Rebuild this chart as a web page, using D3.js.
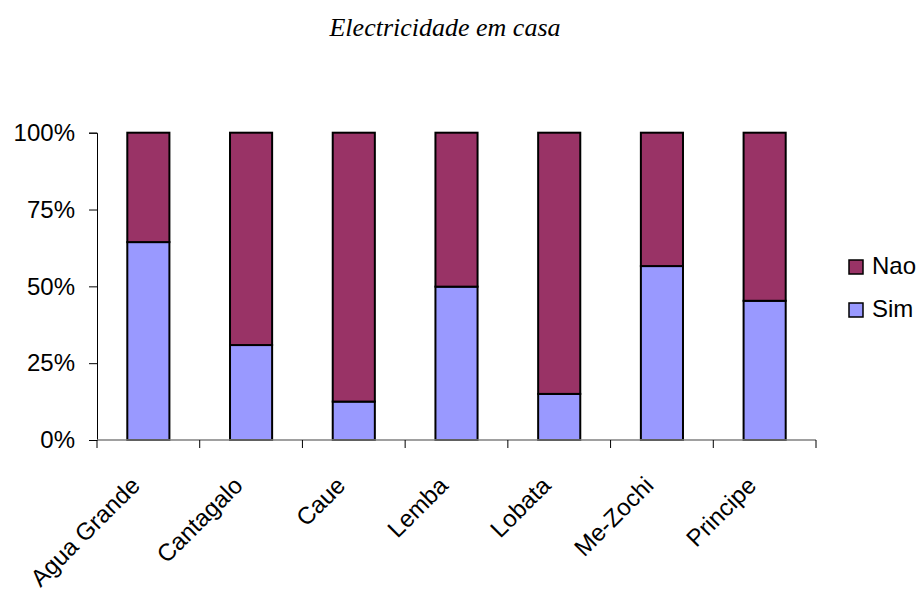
<!DOCTYPE html>
<html>
<head>
	<meta charset="utf-8">
	<script src="https://d3js.org/d3.v7.min.js"></script>
	<title>Electricidade em casa</title>
	<style>
		body { margin: 0; background: #fff; }
		text { font-family: Arial, "Liberation Sans", sans-serif; }
	</style>
</head>
<body>
	<div id="chart"></div>

	<script type="text/javascript">

		// data (share of households, 0-1)
		var districts = ["Agua Grande", "Cantagalo", "Caue", "Lemba", "Lobata", "Me-Zochi", "Principe"];
		var sim = [0.644, 0.309, 0.125, 0.499, 0.150, 0.566, 0.453];
		var nao = [0.356, 0.691, 0.875, 0.501, 0.850, 0.434, 0.547];
		var seriesNames = ["Sim", "Nao"];
		var yTicks = [0, 0.25, 0.5, 0.75, 1];

		var colors = { Sim: "#9999ff", Nao: "#993366" };

		var svgwidth = 922;
		var svgheight = 594;
		var plotLeft = 97, plotRight = 816, plotTop = 132.7, plotBottom = 440;

		var rows = districts.map(function(d, i){
			return { name: d, Sim: sim[i], Nao: nao[i] };
		});

		var stacked = d3.stack().keys(seriesNames)(rows);

		var xScale = d3.scaleBand()
						.domain(districts)
						.range([plotLeft, plotRight])
						.paddingInner(0.59)
						.paddingOuter(0.295);

		var yScale = d3.scaleLinear()
						.domain([0, 1])
						.range([plotBottom, plotTop]);

		var svg = d3.select("#chart").append("svg")
						.attr("width", svgwidth)
						.attr("height", svgheight);

		// title
		svg.append("text")
			.attr("x", 445)
			.attr("y", 36)
			.attr("text-anchor", "middle")
			.style("font-family", "'Liberation Serif', 'Times New Roman', serif")
			.style("font-style", "italic")
			.style("font-size", "26px")
			.text("Electricidade em casa");

		// bars
		svg.selectAll(".series")
			.data(stacked).enter().append("g")
			.attr("class", "series")
			.attr("fill", function(s){ return colors[s.key]; })
			.selectAll("rect")
			.data(function(s){ return s; }).enter().append("rect")
			.attr("x", function(d){ return xScale(d.data.name); })
			.attr("y", function(d){ return yScale(d[1]); })
			.attr("width", xScale.bandwidth())
			.attr("height", function(d){ return yScale(d[0]) - yScale(d[1]); })
			.attr("stroke", "#000")
			.attr("stroke-width", 2);

		// y axis
		var yAxis = d3.axisLeft(yScale)
						.tickValues(yTicks)
						.tickFormat(d3.format(".0%"))
						.tickSizeOuter(0)
						.tickSize(8)
						.tickPadding(14);

		var gy = svg.append("g")
			.attr("transform", "translate(" + plotLeft + ",0)")
			.call(yAxis);
		gy.select(".domain").attr("stroke", "#000");
		gy.selectAll("text")
			.style("font-size", "24px")
			.style("font-family", "Arial, 'Liberation Sans', sans-serif")
			.attr("fill", "#000");

		// x axis
		var bandStep = xScale.step();
		var edges = d3.range(districts.length + 1).map(function(i){ return plotLeft + i * bandStep; });

		svg.append("line")
			.attr("x1", plotLeft).attr("x2", plotRight)
			.attr("y1", plotBottom).attr("y2", plotBottom)
			.attr("stroke", "#808080")
			.attr("stroke-width", 1.5);

		svg.selectAll(".xtick")
			.data(edges).enter().append("line")
			.attr("class", "xtick")
			.attr("x1", function(d){ return d; })
			.attr("x2", function(d){ return d; })
			.attr("y1", plotBottom)
			.attr("y2", plotBottom + 8)
			.attr("stroke", "#000");

		svg.selectAll(".xlabel")
			.data(districts).enter().append("text")
			.attr("class", "xlabel")
			.attr("text-anchor", "end")
			.attr("transform", function(d){
				var cx = xScale(d) + xScale.bandwidth() / 2;
				return "translate(" + (cx - 7) + "," + (plotBottom + 47) + ") rotate(-45)";
			})
			.style("font-size", "24px")
			.text(function(d){ return d; });

		// legend
		var legendItems = ["Nao", "Sim"];
		var legend = svg.selectAll(".legend")
			.data(legendItems).enter().append("g")
			.attr("class", "legend")
			.attr("transform", function(d, i){ return "translate(849," + (260 + i * 43) + ")"; });

		legend.append("rect")
			.attr("width", 14)
			.attr("height", 14)
			.attr("fill", function(d){ return colors[d]; })
			.attr("stroke", "#000")
			.attr("stroke-width", 1.5);

		legend.append("text")
			.attr("x", 23)
			.attr("y", 14)
			.style("font-size", "24px")
			.text(function(d){ return d; });

	</script>

</body>
</html>
